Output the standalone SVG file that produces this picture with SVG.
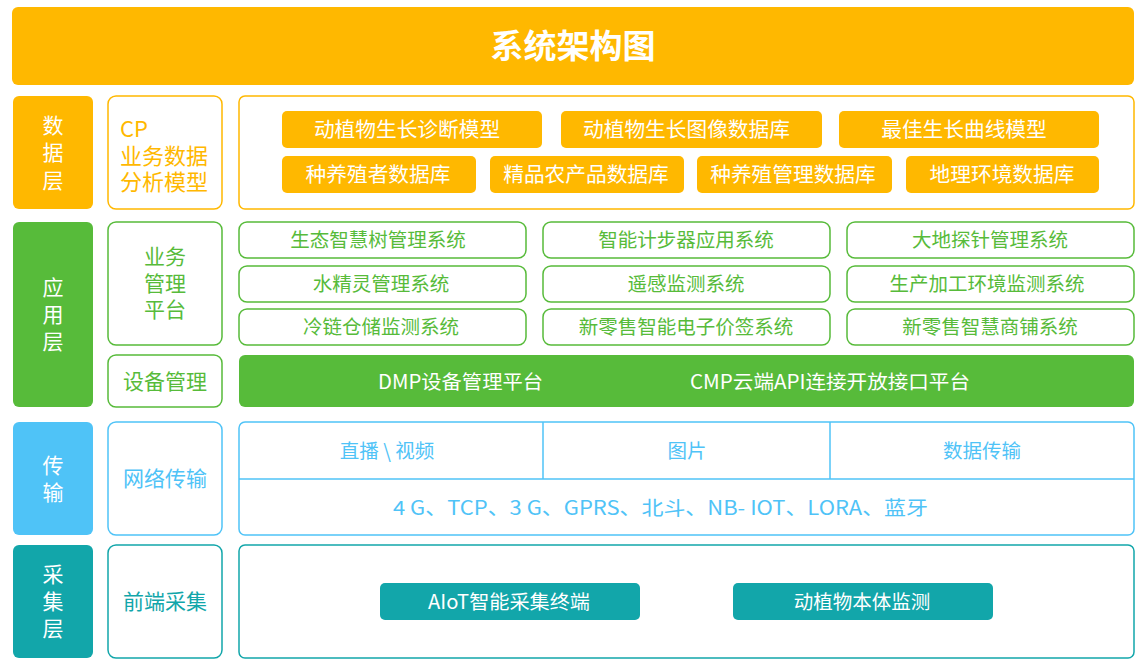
<svg xmlns="http://www.w3.org/2000/svg" width="1146" height="671" viewBox="0 0 1146 671">
<style>
text{font-family:"Noto Sans CJK SC","Liberation Sans",sans-serif;text-anchor:middle;dominant-baseline:central}
.w{fill:#fff}
.o{fill:#FFB800}
.ob{fill:#fff;stroke:#FFB800;stroke-width:1.5}
.g{fill:#57BB3A}
.gb{fill:#fff;stroke:#57BB3A;stroke-width:1.5}
.b{fill:#4FC3F7}
.bb{fill:#fff;stroke:#4FC3F7;stroke-width:1.5}
.t{fill:#12A6AA}
.tb{fill:#fff;stroke:#12A6AA;stroke-width:1.5}
.bl{stroke:#4FC3F7;stroke-width:1.5}
.lab{font-size:21px}
.cp{font-size:22px;text-anchor:start}
.s{font-size:19.5px}
.m{font-size:20.7px}
</style>
<rect width="1146" height="671" fill="#fff"/>
<g id="title">
<rect x="12" y="7" width="1122" height="78" rx="6" class="o"/>
<text x="573" y="44" class="w" style="font-size:33px;font-weight:bold">系统架构图</text>
</g>
<g id="data-layer">
<rect x="13" y="96" width="80" height="113" rx="6" class="o"/>
<text class="w lab"><tspan x="53" y="123.5">数</tspan><tspan x="53" y="150.5">据</tspan><tspan x="53" y="178.5">层</tspan></text>
<rect x="108" y="96" width="114" height="113" rx="8" class="ob"/>
<text class="o cp"><tspan x="120" y="126.5">CP</tspan><tspan x="120" y="153.5">业务数据</tspan><tspan x="120" y="179.5">分析模型</tspan></text>
<rect x="239" y="96" width="895" height="113" rx="6" class="ob"/>
</g>
<g id="data-items">
<rect x="282" y="111" width="260" height="37" rx="5" class="o"/>
<text x="407" y="128" class="w m">动植物生长诊断模型</text>
<rect x="561" y="111" width="261" height="37" rx="5" class="o"/>
<text x="686.5" y="128" class="w m">动植物生长图像数据库</text>
<rect x="839" y="111" width="260" height="37" rx="5" class="o"/>
<text x="964" y="128" class="w m">最佳生长曲线模型</text>
<rect x="282" y="156" width="194" height="37" rx="5" class="o"/>
<text x="378" y="173" class="w m">种养殖者数据库</text>
<rect x="490" y="156" width="194" height="37" rx="5" class="o"/>
<text x="586" y="173" class="w m">精品农产品数据库</text>
<rect x="697" y="156" width="195" height="37" rx="5" class="o"/>
<text x="793" y="173" class="w m">种养殖管理数据库</text>
<rect x="906" y="156" width="193" height="37" rx="5" class="o"/>
<text x="1002" y="173" class="w m">地理环境数据库</text>
</g>
<g id="app-layer">
<rect x="13" y="222" width="80" height="185" rx="6" class="g"/>
<text class="w lab"><tspan x="53" y="285.5">应</tspan><tspan x="53" y="312.5">用</tspan><tspan x="53" y="339.5">层</tspan></text>
<rect x="108" y="222" width="114" height="123" rx="8" class="gb"/>
<text class="g lab"><tspan x="165" y="254.5">业务</tspan><tspan x="165" y="281.5">管理</tspan><tspan x="165" y="307.5">平台</tspan></text>
<rect x="108" y="355" width="114" height="52" rx="8" class="gb"/>
<text x="165" y="379.5" class="g lab">设备管理</text>
</g>
<g id="app-items">
<rect x="239" y="222" width="287" height="36" rx="8" class="gb"/>
<text x="378" y="238.5" class="g s">生态智慧树管理系统</text>
<rect x="543" y="222" width="287" height="36" rx="8" class="gb"/>
<text x="686" y="238.5" class="g s">智能计步器应用系统</text>
<rect x="847" y="222" width="287" height="36" rx="8" class="gb"/>
<text x="990" y="238.5" class="g s">大地探针管理系统</text>
<rect x="239" y="266" width="287" height="36" rx="8" class="gb"/>
<text x="381" y="282.5" class="g s">水精灵管理系统</text>
<rect x="543" y="266" width="287" height="36" rx="8" class="gb"/>
<text x="686" y="282.5" class="g s">遥感监测系统</text>
<rect x="847" y="266" width="287" height="36" rx="8" class="gb"/>
<text x="987" y="282.5" class="g s">生产加工环境监测系统</text>
<rect x="239" y="309" width="287" height="36" rx="8" class="gb"/>
<text x="381" y="325.5" class="g s">冷链仓储监测系统</text>
<rect x="543" y="309" width="287" height="36" rx="8" class="gb"/>
<text x="686" y="325.5" class="g s">新零售智能电子价签系统</text>
<rect x="847" y="309" width="287" height="36" rx="8" class="gb"/>
<text x="990" y="325.5" class="g s">新零售智慧商铺系统</text>
<rect x="239" y="355" width="895" height="52" rx="6" class="g"/>
<text x="460.5" y="380" class="w s" textLength="165" lengthAdjust="spacingAndGlyphs">DMP设备管理平台</text>
<text x="830" y="380" class="w s" textLength="280" lengthAdjust="spacingAndGlyphs">CMP云端API连接开放接口平台</text>
</g>
<g id="transport-layer">
<rect x="13" y="422" width="80" height="113" rx="6" class="b"/>
<text class="w lab"><tspan x="53" y="463.5">传</tspan><tspan x="53" y="490.5">输</tspan></text>
<rect x="108" y="422" width="114" height="113" rx="8" class="bb"/>
<text x="165" y="476.5" class="b lab">网络传输</text>
<rect x="239" y="422" width="895" height="113" rx="6" class="bb"/>
</g>
<g id="connectors">
<line x1="239" y1="479" x2="1134" y2="479" class="bl"/>
<line x1="543" y1="422" x2="543" y2="479" class="bl"/>
<line x1="830" y1="422" x2="830" y2="479" class="bl"/>
</g>
<g id="transport-items">
<text x="387" y="449.5" class="b s">直播 \ 视频</text>
<text x="687" y="449.5" class="b s">图片</text>
<text x="982" y="449.5" class="b s">数据传输</text>
<text x="660.5" y="506.5" class="b s" textLength="535" lengthAdjust="spacingAndGlyphs">4 G、TCP、3 G、GPRS、北斗、NB- IOT、LORA、蓝牙</text>
</g>
<g id="collect-layer">
<rect x="13" y="545" width="80" height="113" rx="6" class="t"/>
<text class="w lab"><tspan x="53" y="572.5">采</tspan><tspan x="53" y="599.5">集</tspan><tspan x="53" y="626.5">层</tspan></text>
<rect x="108" y="545" width="114" height="113" rx="8" class="tb"/>
<text x="165" y="599.5" class="t lab">前端采集</text>
<rect x="239" y="545" width="895" height="113" rx="6" class="tb"/>
</g>
<g id="collect-items">
<rect x="380" y="583" width="260" height="37" rx="5" class="t"/>
<text x="509" y="600" class="w s" textLength="162" lengthAdjust="spacingAndGlyphs">AIoT智能采集终端</text>
<rect x="733" y="583" width="260" height="37" rx="5" class="t"/>
<text x="862" y="600" class="w s">动植物本体监测</text>
</g>
</svg>
